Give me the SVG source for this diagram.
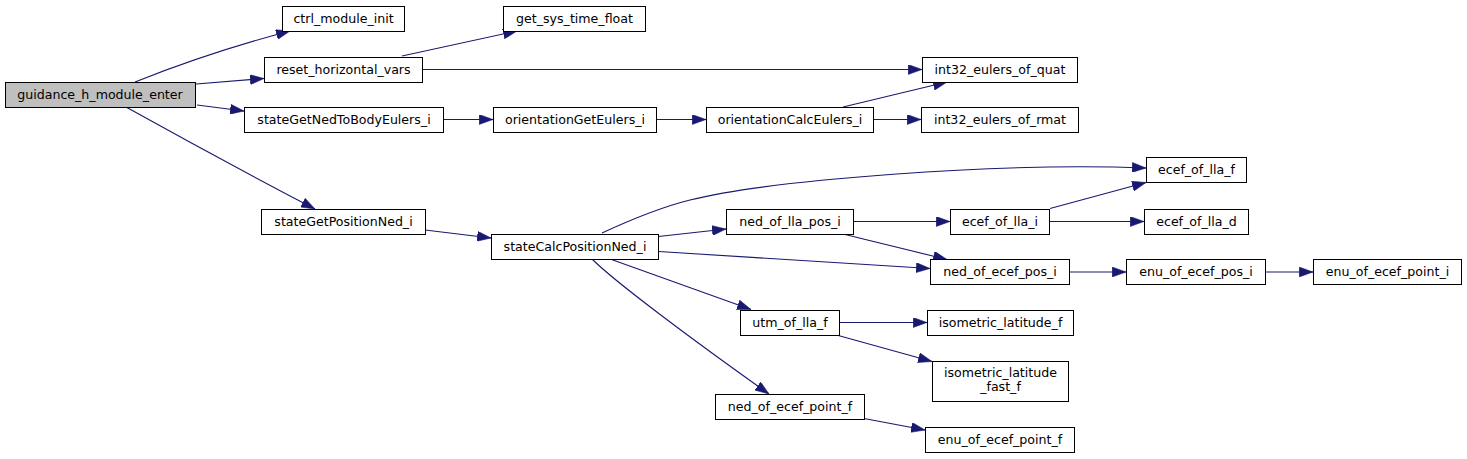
<svg xmlns="http://www.w3.org/2000/svg" width="1467" height="459" viewBox="0 0 1467 459">
<defs>
<style>
.n rect{fill:#ffffff;stroke:#000000;stroke-width:1}
.n.root rect{fill:#bfbfbf}
.n text{font-family:"DejaVu Sans","Liberation Sans",sans-serif;font-size:12.6px;fill:#000000;text-anchor:middle}
#edges path{fill:none;stroke:#191970;stroke-width:1.1;marker-end:url(#ah)}
</style>
<marker id="ah" markerUnits="userSpaceOnUse" markerWidth="14" markerHeight="10" viewBox="0 0 13 9.4" refX="13" refY="4.7" orient="auto">
<path d="M0,0 L13,4.7 L0,9.4 z" fill="#191970" stroke="#191970" stroke-width="0.5"/>
</marker>
</defs>
<rect x="0" y="0" width="1467" height="459" fill="#ffffff"/>
<g id="edges">
<path d="M135,82 C175,66 225,48 290,31"/>
<path d="M196,84 L264,78.5"/>
<path d="M197,105 L244,111"/>
<path d="M126,107 C180,137 250,175 315,209"/>
<path d="M402,56 L517,31"/>
<path d="M422,69.5 L922,69.5"/>
<path d="M443,119.5 L493,119.5"/>
<path d="M656,119.5 L706,119.5"/>
<path d="M873,119.5 L921,119.5"/>
<path d="M843,107 L947,82"/>
<path d="M425,230 L491,238"/>
<path d="M602,233 C630,220 658,208 690,200 C770,180 1000,162 1146,168"/>
<path d="M658.5,236.5 L726,229"/>
<path d="M658.5,251.5 L930,268.5"/>
<path d="M611.5,259.5 L751,309.5"/>
<path d="M592,259 C614,281 690,338 769,394"/>
<path d="M853,221.5 L950,221.5"/>
<path d="M843,234 L947,259.5"/>
<path d="M1050,208.5 L1146,182.5"/>
<path d="M1049,221.5 L1144,221.5"/>
<path d="M1069,272 L1126,272"/>
<path d="M1265,272 L1313,272"/>
<path d="M839,322.5 L927,322.5"/>
<path d="M836.5,335 L932,361.5"/>
<path d="M864,418.5 L925,430"/>
</g>
<g id="n_guidance_h_module_enter" class="n root"><rect x="5.5" y="82.5" width="190" height="25"/><text x="100" y="99">guidance_h_module_enter</text></g>
<g id="n_ctrl_module_init" class="n"><rect x="282.5" y="6.5" width="122" height="25"/><text x="343.5" y="23">ctrl_module_init</text></g>
<g id="n_reset_horizontal_vars" class="n"><rect x="264.5" y="57.5" width="158" height="25"/><text x="343.5" y="74">reset_horizontal_vars</text></g>
<g id="n_stateGetNedToBodyEulers_i" class="n"><rect x="244.5" y="107.5" width="199" height="25"/><text x="344" y="124">stateGetNedToBodyEulers_i</text></g>
<g id="n_stateGetPositionNed_i" class="n"><rect x="261.5" y="209.5" width="164" height="25"/><text x="343.5" y="226">stateGetPositionNed_i</text></g>
<g id="n_get_sys_time_float" class="n"><rect x="503.5" y="6.5" width="142" height="25"/><text x="574.5" y="23">get_sys_time_float</text></g>
<g id="n_orientationGetEulers_i" class="n"><rect x="493.5" y="107.5" width="163" height="25"/><text x="575" y="124">orientationGetEulers_i</text></g>
<g id="n_stateCalcPositionNed_i" class="n"><rect x="491.5" y="234.5" width="167" height="25"/><text x="575" y="251">stateCalcPositionNed_i</text></g>
<g id="n_orientationCalcEulers_i" class="n"><rect x="706.5" y="107.5" width="167" height="25"/><text x="790" y="124">orientationCalcEulers_i</text></g>
<g id="n_ned_of_lla_pos_i" class="n"><rect x="726.5" y="209.5" width="127" height="25"/><text x="790" y="226">ned_of_lla_pos_i</text></g>
<g id="n_utm_of_lla_f" class="n"><rect x="740.5" y="310.5" width="99" height="25"/><text x="790" y="327">utm_of_lla_f</text></g>
<g id="n_ned_of_ecef_point_f" class="n"><rect x="715.5" y="394.5" width="149" height="25"/><text x="790" y="411">ned_of_ecef_point_f</text></g>
<g id="n_int32_eulers_of_quat" class="n"><rect x="922.5" y="57.5" width="155" height="25"/><text x="1000" y="74">int32_eulers_of_quat</text></g>
<g id="n_int32_eulers_of_rmat" class="n"><rect x="921.5" y="107.5" width="157" height="25"/><text x="1000" y="124">int32_eulers_of_rmat</text></g>
<g id="n_ecef_of_lla_i" class="n"><rect x="950.5" y="209.5" width="99" height="25"/><text x="1000" y="226">ecef_of_lla_i</text></g>
<g id="n_ned_of_ecef_pos_i" class="n"><rect x="930.5" y="259.5" width="139" height="25"/><text x="1000" y="276">ned_of_ecef_pos_i</text></g>
<g id="n_isometric_latitude_f" class="n"><rect x="927.5" y="310.5" width="146" height="25"/><text x="1000.5" y="327">isometric_latitude_f</text></g>
<g id="n_isometric_latitude_fast_f" class="n"><rect x="932.5" y="361.5" width="136" height="40"/><text x="1000.5" y="377">isometric_latitude</text><text x="1000.5" y="391">_fast_f</text></g>
<g id="n_enu_of_ecef_point_f" class="n"><rect x="925.5" y="427.5" width="149" height="25"/><text x="1000" y="444">enu_of_ecef_point_f</text></g>
<g id="n_ecef_of_lla_f" class="n"><rect x="1146.5" y="157.5" width="100" height="25"/><text x="1196.5" y="174">ecef_of_lla_f</text></g>
<g id="n_ecef_of_lla_d" class="n"><rect x="1144.5" y="209.5" width="104" height="25"/><text x="1196.5" y="226">ecef_of_lla_d</text></g>
<g id="n_enu_of_ecef_pos_i" class="n"><rect x="1126.5" y="259.5" width="139" height="25"/><text x="1196" y="276">enu_of_ecef_pos_i</text></g>
<g id="n_enu_of_ecef_point_i" class="n"><rect x="1313.5" y="259.5" width="148" height="25"/><text x="1387.5" y="276">enu_of_ecef_point_i</text></g>
</svg>
